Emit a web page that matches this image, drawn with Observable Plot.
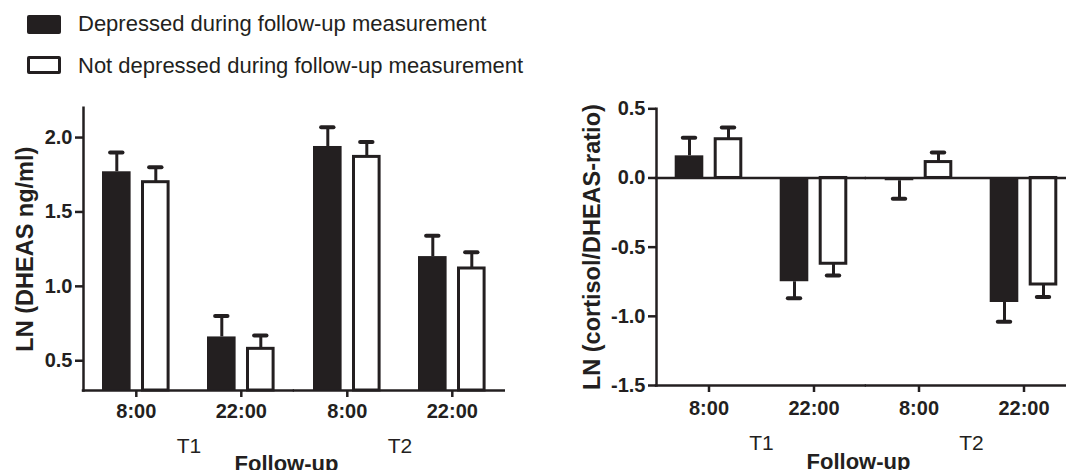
<!DOCTYPE html>
<html>
<head>
<meta charset="utf-8">
<script src="https://cdn.jsdelivr.net/npm/d3@7"></script>
<script src="https://cdn.jsdelivr.net/npm/@observablehq/plot@0.6"></script>
<style>
  html, body { margin: 0; padding: 0; background: #fff; overflow: hidden; }
  #page { position: relative; width: 1066px; height: 470px; overflow: hidden; font-family: "Liberation Sans", Arial, sans-serif; color: #231f20; }
  .swatch { position: absolute; box-sizing: border-box; width: 34px; border-radius: 2px; }
  .legend-label { position: absolute; left: 78px; font-size: 22px; line-height: 22px; white-space: nowrap; }
  .panel { position: absolute; top: 90px; height: 380px; }
  .panel svg { max-width: none !important; }
</style>
</head>
<body>
<div id="page">
  <div id="legend"></div>
  <div id="left" class="panel" style="left:0px; width:540px"></div>
  <div id="right" class="panel" style="left:560px; width:520px"></div>
</div>
<script>
// ---------------- data ----------------
const timepoints = ["T1", "T1", "T2", "T2"];
const clockTimes = ["8:00", "22:00", "8:00", "22:00"];
const seriesNames = ["Depressed during follow-up measurement", "Not depressed during follow-up measurement"];

const dheasDepressed = [1.77, 0.66, 1.94, 1.20];
const dheasDepressedSem = [0.13, 0.14, 0.13, 0.14];
const dheasNotDepressed = [1.70, 0.58, 1.87, 1.12];
const dheasNotDepressedSem = [0.10, 0.09, 0.10, 0.11];

const ratioDepressed = [0.16, -0.75, -0.02, -0.90];
const ratioDepressedSem = [0.13, 0.12, 0.13, 0.14];
const ratioNotDepressed = [0.28, -0.62, 0.115, -0.77];
const ratioNotDepressedSem = [0.085, 0.085, 0.07, 0.09];

const dheasTicks = [0.5, 1.0, 1.5, 2.0];
const ratioTicks = [-1.5, -1.0, -0.5, 0.0, 0.5];
const dheasDomain = [0.3, 2.2];
const ratioDomain = [-1.5, 0.5];

const dheasTitle = "LN (DHEAS ng/ml)";
const ratioTitle = "LN (cortisol/DHEAS-ratio)";
const xTitle = "Follow-up";

// ---------------- styling ----------------
const INK = "#231f20";
const FONT = "'Liberation Sans', Arial, sans-serif";

// ---------------- legend ----------------
const legend = document.getElementById("legend");
const legendTops = [13.3, 54.8];
seriesNames.forEach((name, s) => {
  const sw = document.createElement("div");
  sw.className = "swatch";
  sw.style.left = "27px";
  sw.style.top = (s === 0 ? 14.5 : 56) + "px";
  sw.style.height = (s === 0 ? 19.5 : 18) + "px";
  if (s === 0) { sw.style.background = INK; }
  else { sw.style.background = "#fff"; sw.style.border = "3.5px solid " + INK; }
  legend.appendChild(sw);
  const lb = document.createElement("div");
  lb.className = "legend-label";
  lb.style.top = legendTops[s] + "px";
  lb.textContent = name;
  legend.appendChild(lb);
});

function rowsFor(values, sems, series) {
  return values.map((v, i) => ({
    tp: timepoints[i],
    time: clockTimes[i],
    series,
    value: v,
    end: v < 0 ? v - sems[i] : v + sems[i]
  }));
}

function panel(o) {
  const dep = rowsFor(o.dep, o.depSem, seriesNames[0]);
  const not = rowsFor(o.not, o.notSem, seriesNames[1]);
  const base = o.baseline;
  return Plot.plot({
    width: o.width,
    height: 380,
    marginLeft: o.marginLeft,
    marginRight: o.marginRight,
    marginTop: o.marginTop,
    marginBottom: o.marginBottom,
    style: { fontFamily: FONT, color: INK, background: "transparent", overflow: "visible", maxWidth: "none" },
    fx: { domain: ["T1", "T2"], padding: 0, label: null },
    x: { domain: ["8:00", "22:00"], padding: 0, label: null },
    y: { domain: o.domain, label: null },
    marks: [
      Plot.barY(dep, { fx: "tp", x: "time", y1: base, y2: "value", fill: INK, insetLeft: 38.2, insetRight: 38.2, dx: -19.5 }),
      Plot.barY(not, { fx: "tp", x: "time", y1: base, y2: "value", fill: "#fff", stroke: INK, strokeWidth: 3, insetLeft: 39.7, insetRight: 39.7, dx: 19.5 }),
      Plot.ruleX(dep, { fx: "tp", x: "time", y1: "value", y2: "end", stroke: INK, strokeWidth: 3, dx: -19.5 }),
      Plot.ruleX(not, { fx: "tp", x: "time", y1: "value", y2: "end", stroke: INK, strokeWidth: 3, dx: 19.5 }),
      Plot.tickY(dep, { fx: "tp", x: "time", y: "end", stroke: INK, strokeWidth: 4, strokeLinecap: "round", insetLeft: 46.3, insetRight: 46.3, dx: -19.5 }),
      Plot.tickY(not, { fx: "tp", x: "time", y: "end", stroke: INK, strokeWidth: 4, strokeLinecap: "round", insetLeft: 46.3, insetRight: 46.3, dx: 19.5 }),
      ...(o.zeroLine ? [Plot.ruleY([0], { stroke: INK, strokeWidth: 2.5, insetLeft: -1.25 })] : []),
      Plot.ruleY([o.domain[0]], { stroke: INK, strokeWidth: 2.5, insetLeft: -1.25 }),
      Plot.frame({ anchor: "left", facetAnchor: "left", stroke: INK, strokeWidth: 2.5 }),
      Plot.axisY(o.ticks, { tickSize: 8, tickPadding: 3, tickFormat: d => d.toFixed(1), fontSize: 20, fontWeight: "bold", strokeWidth: 2.5, color: INK, label: null }),
      Plot.axisX({ anchor: "bottom", tickSize: 7, tickPadding: o.xPad, fontSize: 20, fontWeight: "bold", strokeWidth: 2.5, color: INK, label: null }),
      Plot.axisFx({ anchor: "bottom", tickSize: 0, tickPadding: o.fxPad, fontSize: 21, color: INK, label: null }),
      Plot.text([o.title], { facet: "super", frameAnchor: "left", textAnchor: "middle", lineAnchor: "middle", rotate: -90, dx: o.titleDx, fontSize: 23.5, fontWeight: "bold", fill: INK }),
      Plot.text([xTitle], { facet: "super", frameAnchor: "bottom", textAnchor: "middle", lineAnchor: "top", dy: o.xTitleDy, dx: -8, fontSize: 22, fontWeight: "bold", fill: INK })
    ]
  });
}

document.getElementById("left").appendChild(panel({
  dep: dheasDepressed, depSem: dheasDepressedSem,
  not: dheasNotDepressed, notSem: dheasNotDepressedSem,
  domain: dheasDomain, ticks: dheasTicks, baseline: dheasDomain[0],
  title: dheasTitle, zeroLine: false,
  width: 540, marginLeft: 82.7, marginRight: 34.1, marginTop: 17.3, marginBottom: 80,
  xPad: 6, fxPad: 48, titleDx: -58, xTitleDy: 65
}));

document.getElementById("right").appendChild(panel({
  dep: ratioDepressed, depSem: ratioDepressedSem,
  not: ratioNotDepressed, notSem: ratioNotDepressedSem,
  domain: ratioDomain, ticks: ratioTicks, baseline: 0,
  title: ratioTitle, zeroLine: true,
  width: 520, marginLeft: 96, marginRight: 4, marginTop: 18.3, marginBottom: 85,
  xPad: 8, fxPad: 50, titleDx: -64.3, xTitleDy: 68
}));
</script>
</body>
</html>
